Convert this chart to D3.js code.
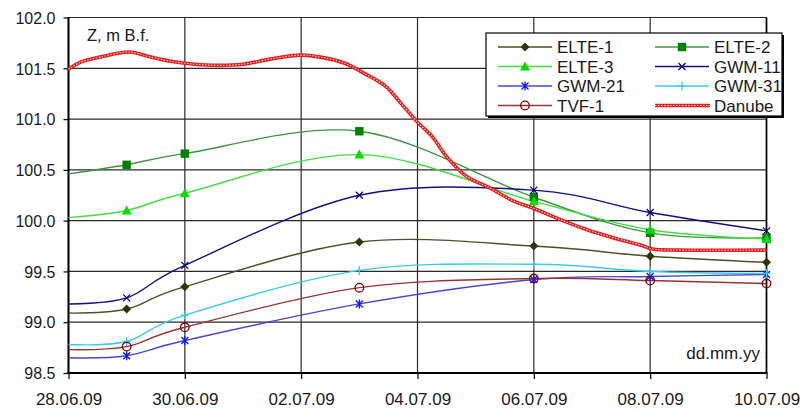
<!DOCTYPE html>
<html>
<head>
<meta charset="utf-8">
<script src="https://cdn.jsdelivr.net/npm/d3@7/dist/d3.min.js"></script>
<style>
  html, body { margin: 0; padding: 0; background: #fff; }
  svg { display: block; }
  text { font-family: Arial, "Liberation Sans", sans-serif; fill: #1a1a1a; }
</style>
</head>
<body>
<div id="chart"></div>
<script>
// ---------- data ----------
const dates = ["28.06.09", "29.06.09", "30.06.09", "03.07.09", "06.07.09", "08.07.09", "10.07.09"];
const elte1 = [99.09, 99.13, 99.35, 99.79, 99.75, 99.65, 99.59];
const elte2 = [100.46, 100.55, 100.66, 100.88, 100.23, 99.88, 99.83];
const elte3 = [100.03, 100.10, 100.27, 100.65, 100.19, 99.91, 99.82];
const gwm11 = [99.18, 99.24, 99.56, 100.25, 100.30, 100.08, 99.90];
const gwm21 = [98.65, 98.67, 98.82, 99.18, 99.42, 99.45, 99.47];
const gwm31 = [98.78, 98.81, 99.07, 99.51, 99.57, 99.50, 99.48];
const tvf1  = [98.73, 98.76, 98.95, 99.34, 99.43, 99.41, 99.38];

const danubeTimes = ["28.06.09 00:00", "28.06.09 05:00", "28.06.09 13:00", "29.06.09 01:00", "29.06.09 10:00",
  "29.06.09 18:00", "30.06.09 00:00", "30.06.09 11:00", "01.07.09 00:00", "01.07.09 11:00", "02.07.09 00:00",
  "02.07.09 08:00", "02.07.09 18:00", "03.07.09 02:00", "03.07.09 11:00", "03.07.09 17:00", "04.07.09 00:00",
  "04.07.09 06:00", "04.07.09 12:00", "04.07.09 20:00", "05.07.09 06:00", "05.07.09 15:00", "06.07.09 00:00",
  "06.07.09 11:00", "06.07.09 22:00", "07.07.09 09:00", "07.07.09 20:00", "08.07.09 01:00", "08.07.09 12:00",
  "10.07.09 00:00"];
const danubeLevels = [101.49, 101.56, 101.61, 101.66, 101.61, 101.57, 101.55, 101.53, 101.54, 101.59, 101.63,
  101.61, 101.55, 101.45, 101.32, 101.16, 100.97, 100.83, 100.63, 100.44, 100.32, 100.20, 100.12,
  100.01, 99.91, 99.83, 99.76, 99.72, 99.71, 99.71];

const xTickLabels = ["28.06.09", "30.06.09", "02.07.09", "04.07.09", "06.07.09", "08.07.09", "10.07.09"];
const yTickValues = [98.5, 99.0, 99.5, 100.0, 100.5, 101.0, 101.5, 102.0];
const yTitle = "Z, m B.f.";
const xTitle = "dd.mm.yy";

const seriesNames = ["ELTE-1", "ELTE-2", "ELTE-3", "GWM-11", "GWM-21", "GWM-31", "TVF-1"];
const seriesValues = [elte1, elte2, elte3, gwm11, gwm21, gwm31, tvf1];
const seriesLine   = ["#4e4e26", "#3f9440", "#45dc45", "#101080", "#4747cc", "#3cc8ec", "#963434"];
const seriesMarkC  = ["#333300", "#008000", "#00dd00", "#000080", "#1010ff", "#33ccee", "#800000"];
const seriesMarker = ["diamond", "square", "triangle", "x", "star", "plus", "circle"];

// ---------- layout ----------
const W = 803, H = 410;
const L = 68.5, R = 766.5, T = 17.5, B = 373;

const parseD = d3.timeParse("%d.%m.%y");
const parseDT = d3.timeParse("%d.%m.%y %H:%M");

const x = d3.scaleTime().domain([parseD("28.06.09"), parseD("10.07.09")]).range([L, R]);
const y = d3.scaleLinear().domain([98.5, 102.0]).range([B, T]);

const svg = d3.select("#chart").append("svg").attr("width", W).attr("height", H);

// grid
const grid = svg.append("g");
grid.selectAll("line.h").data(yTickValues).join("line")
  .attr("x1", L).attr("x2", R).attr("y1", d => y(d)).attr("y2", d => y(d))
  .attr("stroke", "#2a2a2a").attr("stroke-width", 1.2);
grid.selectAll("line.v").data(xTickLabels.map(parseD)).join("line")
  .attr("x1", d => x(d)).attr("x2", d => x(d)).attr("y1", T).attr("y2", B)
  .attr("stroke", "#2a2a2a").attr("stroke-width", 1.2);

// axes
const yAxis = svg.append("g").attr("transform", `translate(${L},0)`)
  .call(d3.axisLeft(y).tickValues(yTickValues).tickFormat(d3.format(".1f")).tickSize(5).tickPadding(8));
yAxis.select(".domain").remove();
yAxis.selectAll(".tick line").attr("stroke", "#111").attr("stroke-width", 1.3);
yAxis.selectAll(".tick text").attr("font-size", 16).attr("fill", "#1a1a1a")
  .attr("font-family", "Arial, 'Liberation Sans', sans-serif").attr("dy", "0.36em");

const xAxis = svg.append("g").attr("transform", `translate(0,${B})`)
  .call(d3.axisBottom(x).tickValues(xTickLabels.map(parseD)).tickFormat(d3.timeFormat("%d.%m.%y")).tickSize(6).tickPadding(14));
xAxis.select(".domain").remove();
xAxis.selectAll(".tick line").attr("stroke", "#111").attr("stroke-width", 1.3);
xAxis.selectAll(".tick text").attr("font-size", 17).attr("fill", "#1a1a1a")
  .attr("font-family", "Arial, 'Liberation Sans', sans-serif");

// frame
svg.append("line").attr("x1", L).attr("x2", L).attr("y1", T - 0.5).attr("y2", B + 1).attr("stroke", "#000").attr("stroke-width", 2);
svg.append("line").attr("x1", L - 1).attr("x2", R + 1).attr("y1", B).attr("y2", B).attr("stroke", "#000").attr("stroke-width", 2);
svg.append("line").attr("x1", R).attr("x2", R).attr("y1", T).attr("y2", B).attr("stroke", "#000").attr("stroke-width", 1.6);

// marker drawing
function drawMarker(g, type, cx, cy, color) {
  const s = 4.5;
  if (type === "diamond") {
    g.append("path").attr("d", `M${cx},${cy - s}L${cx + s},${cy}L${cx},${cy + s}L${cx - s},${cy}Z`).attr("fill", color);
  } else if (type === "square") {
    g.append("rect").attr("x", cx - 4.2).attr("y", cy - 4.2).attr("width", 8.4).attr("height", 8.4).attr("fill", color);
  } else if (type === "triangle") {
    g.append("path").attr("d", `M${cx},${cy - 5}L${cx + 5},${cy + 4}L${cx - 5},${cy + 4}Z`).attr("fill", color);
  } else if (type === "x") {
    g.append("path").attr("d", `M${cx - 3.5},${cy - 3.5}L${cx + 3.5},${cy + 3.5}M${cx - 3.5},${cy + 3.5}L${cx + 3.5},${cy - 3.5}`)
      .attr("stroke", color).attr("stroke-width", 1.2).attr("fill", "none");
  } else if (type === "star") {
    g.append("path").attr("d", `M${cx - 3.5},${cy - 3.5}L${cx + 3.5},${cy + 3.5}M${cx - 3.5},${cy + 3.5}L${cx + 3.5},${cy - 3.5}M${cx},${cy - 4.5}L${cx},${cy + 4.5}`)
      .attr("stroke", color).attr("stroke-width", 1.3).attr("fill", "none");
  } else if (type === "plus") {
    g.append("path").attr("d", `M${cx},${cy - 4.5}L${cx},${cy + 4.5}M${cx - 4},${cy}L${cx + 4},${cy}`)
      .attr("stroke", color).attr("stroke-width", 1.3).attr("fill", "none");
  } else if (type === "circle") {
    g.append("circle").attr("cx", cx).attr("cy", cy).attr("r", 4.3).attr("fill", "none")
      .attr("stroke", color).attr("stroke-width", 1.3);
  }
}

// series
const line = d3.line().curve(d3.curveCardinal.tension(0));
const plot = svg.append("g");
seriesNames.forEach((name, i) => {
  const pts = dates.map((d, j) => [x(parseD(d)), y(seriesValues[i][j])]);
  plot.append("path").attr("d", line(pts)).attr("fill", "none")
    .attr("stroke", seriesLine[i]).attr("stroke-width", 1.4);
});
seriesNames.forEach((name, i) => {
  const g = plot.append("g");
  dates.forEach((d, j) => {
    if (j === 0) return; // first point sits on the axis, no marker shown
    drawMarker(g, seriesMarker[i], x(parseD(d)), y(seriesValues[i][j]), seriesMarkC[i]);
  });
});

// Danube
const dPts = danubeTimes.map((t, j) => [x(parseDT(t)), y(danubeLevels[j])]);
const dLine = d3.line().curve(d3.curveCatmullRom.alpha(0.5));
plot.append("path").attr("d", dLine(dPts)).attr("fill", "none")
  .attr("stroke", "#e41e1e").attr("stroke-width", 3.6);
plot.append("path").attr("d", dLine(dPts)).attr("fill", "none")
  .attr("stroke", "#ffe4e4").attr("stroke-width", 1.1).attr("stroke-dasharray", "1.4 1.6");

// titles
svg.append("text").attr("x", 87).attr("y", 41).attr("font-size", 16.5).text(yTitle);
svg.append("text").attr("x", 760).attr("y", 359).attr("text-anchor", "end").attr("font-size", 17).text(xTitle);

// legend
const lg = svg.append("g");
lg.append("rect").attr("x", 488).attr("y", 35).attr("width", 296).attr("height", 83).attr("fill", "#000");
lg.append("rect").attr("x", 486).attr("y", 33).attr("width", 296).attr("height", 83)
  .attr("fill", "#fff").attr("stroke", "#000").attr("stroke-width", 1.2);
const legendItems = seriesNames.map((n, i) => ({ name: n, line: seriesLine[i], marker: seriesMarker[i], mc: seriesMarkC[i] }));
legendItems.push({ name: "Danube", danube: true });
legendItems.forEach((it, k) => {
  const col = k % 2, row = Math.floor(k / 2);
  const x0 = col === 0 ? 498 : 655;
  const cy = 47 + row * 19.5;
  const g = lg.append("g");
  if (it.danube) {
    g.append("line").attr("x1", x0).attr("x2", x0 + 55).attr("y1", cy).attr("y2", cy)
      .attr("stroke", "#e41e1e").attr("stroke-width", 3.6);
    g.append("line").attr("x1", x0).attr("x2", x0 + 55).attr("y1", cy).attr("y2", cy)
      .attr("stroke", "#ffe4e4").attr("stroke-width", 1.1).attr("stroke-dasharray", "1.4 1.6");
  } else {
    g.append("line").attr("x1", x0).attr("x2", x0 + 54).attr("y1", cy).attr("y2", cy)
      .attr("stroke", it.line).attr("stroke-width", 1.4);
    drawMarker(g, it.marker, x0 + 27, cy, it.mc);
  }
  g.append("text").attr("x", x0 + 59).attr("y", cy + 6.2).attr("font-size", 17).text(it.name);
});
</script>
</body>
</html>
